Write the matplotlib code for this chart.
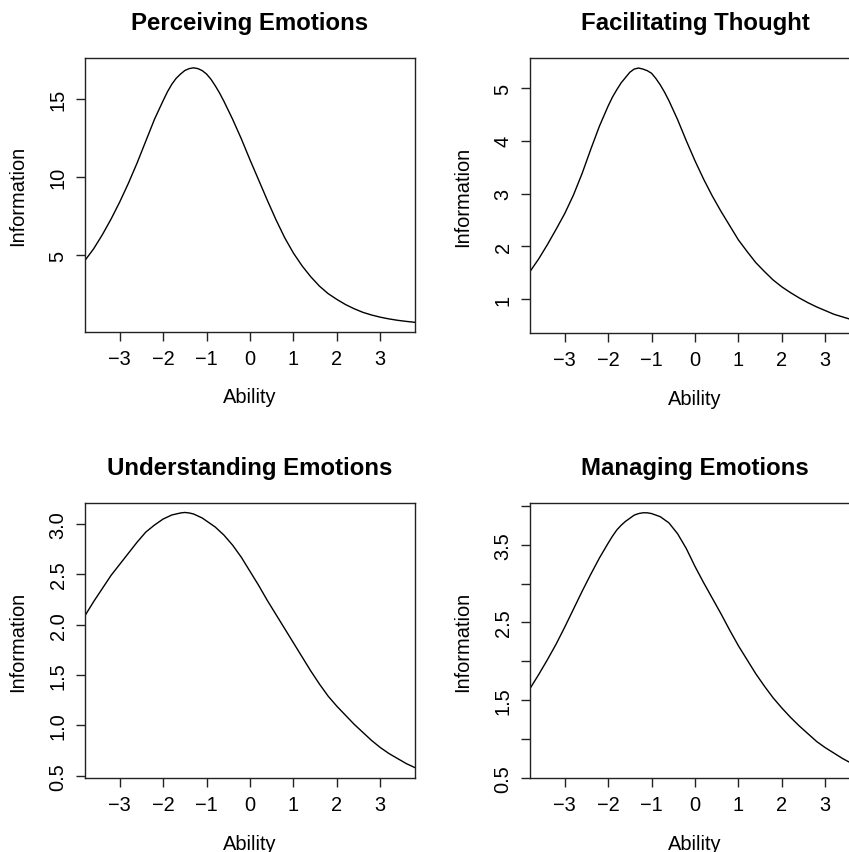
import matplotlib
matplotlib.use("Agg")
import matplotlib.pyplot as plt

plt.rcParams['font.family'] = ['Liberation Sans', 'DejaVu Sans']

# values (finer steps round the peaks)
ability = [-3.8, -3.6, -3.4, -3.2, -3.0, -2.8, -2.6, -2.4, -2.2, -2.0,
           -1.9, -1.8, -1.7, -1.6, -1.5, -1.4, -1.3, -1.2, -1.1, -1.0,
           -0.9, -0.8, -0.7, -0.6,
           -0.4, -0.2, 0.0, 0.2, 0.4, 0.6, 0.8, 1.0, 1.2, 1.4, 1.6, 1.8,
           2.0, 2.2, 2.4, 2.6, 2.8, 3.0, 3.2, 3.4, 3.6, 3.8]

perceiving = [4.65, 5.40, 6.30, 7.30, 8.40, 9.60, 10.90, 12.30, 13.70, 14.90,
              15.47, 15.95, 16.33, 16.60, 16.83, 16.95, 17.00, 16.95, 16.82, 16.60,
              16.27, 15.85, 15.38, 14.85,
              13.70, 12.45, 11.10, 9.80, 8.50, 7.25, 6.10, 5.12, 4.30, 3.60, 3.00, 2.52,
              2.15, 1.82, 1.55, 1.32, 1.15, 1.01, 0.90, 0.81, 0.74, 0.68]

facilitating = [1.52, 1.76, 2.03, 2.32, 2.62, 2.97, 3.38, 3.84, 4.28, 4.66,
                4.83, 4.97, 5.10, 5.20, 5.30, 5.36, 5.38, 5.36, 5.33, 5.28,
                5.18, 5.06, 4.92, 4.76,
                4.40, 4.00, 3.62, 3.27, 2.95, 2.66, 2.39, 2.12, 1.90, 1.69, 1.52, 1.36,
                1.23, 1.12, 1.02, 0.93, 0.85, 0.78, 0.71, 0.66, 0.61, 0.57]

understanding = [2.09, 2.23, 2.36, 2.49, 2.60, 2.71, 2.82, 2.92, 2.99, 3.05,
                 3.07, 3.09, 3.10, 3.11, 3.115, 3.11, 3.10, 3.08, 3.06, 3.03,
                 3.00, 2.97, 2.93, 2.89,
                 2.79, 2.67, 2.53, 2.39, 2.24, 2.10, 1.96, 1.82, 1.68, 1.54, 1.41, 1.29,
                 1.19, 1.10, 1.01, 0.93, 0.85, 0.78, 0.72, 0.67, 0.62, 0.58]

managing = [1.65, 1.83, 2.02, 2.22, 2.44, 2.67, 2.90, 3.12, 3.33, 3.52,
            3.61, 3.69, 3.75, 3.80, 3.84, 3.88, 3.90, 3.91, 3.91, 3.90,
            3.88, 3.86, 3.82, 3.78,
            3.64, 3.45, 3.22, 3.01, 2.81, 2.61, 2.40, 2.20, 2.02, 1.84, 1.68, 1.53,
            1.40, 1.28, 1.17, 1.07, 0.97, 0.89, 0.82, 0.75, 0.69, 0.64]

titles = ['Perceiving Emotions', 'Facilitating Thought',
          'Understanding Emotions', 'Managing Emotions']
x_ticks = [-3, -2, -1, 0, 1, 2, 3]

W, H = 849, 853
fig = plt.figure(figsize=(W / 100, H / 100), dpi=100)


def px_axes(left, top, right, bottom):
    return fig.add_axes([left / W, 1 - bottom / H, (right - left) / W, (bottom - top) / H])


# right column runs past the canvas edge, as in the reference
panels = [
    (px_axes(85, 59, 415, 333), perceiving, (0.06, 17.63),
     [5, 10, 15], ['5', '10', '15']),
    (px_axes(530, 59, 860, 334), facilitating, (0.355, 5.57),
     [1, 2, 3, 4, 5], ['1', '2', '3', '4', '5']),
    (px_axes(85, 504, 415, 779), understanding, (0.477, 3.209),
     [0.5, 1.0, 1.5, 2.0, 2.5, 3.0], ['0.5', '1.0', '1.5', '2.0', '2.5', '3.0']),
    (px_axes(530, 504, 860, 779), managing, (0.5, 4.036),
     [0.5, 1.0, 1.5, 2.0, 2.5, 3.0, 3.5, 4.0], ['0.5', '', '1.5', '', '2.5', '', '3.5', '']),
]

for (ax, info, ylim, yt, ylab), title in zip(panels, titles):
    ax.plot(ability, info, color='black', lw=1.0)
    ax.set_xlim(-3.8, 3.8)
    ax.set_ylim(*ylim)
    ax.set_xticks(x_ticks)
    ax.set_yticks(yt)
    ax.set_yticklabels(ylab)
    ax.tick_params(axis='both', labelsize=14.4, length=6.5, width=1.0, color='#222222')
    ax.tick_params(axis='x', pad=5.5)
    ax.tick_params(axis='y', pad=6, labelrotation=90)
    for lbl in ax.get_yticklabels():
        lbl.set_va('center')
    for sp in ax.spines.values():
        sp.set_linewidth(1.0)
        sp.set_color('#222222')
    ax.set_title(title, fontsize=17.3, fontweight='bold', pad=21)
    ax.set_xlabel('Ability', fontsize=14.4)
    ax.set_ylabel('Information', fontsize=14.4)
    ax.xaxis.set_label_coords(0.5, -0.237)
    ax.xaxis.label.set_va('center')
    ax.yaxis.set_label_coords(-0.203, 0.5)
    ax.yaxis.label.set_va('center')

fig.savefig('out.png', dpi=100)
